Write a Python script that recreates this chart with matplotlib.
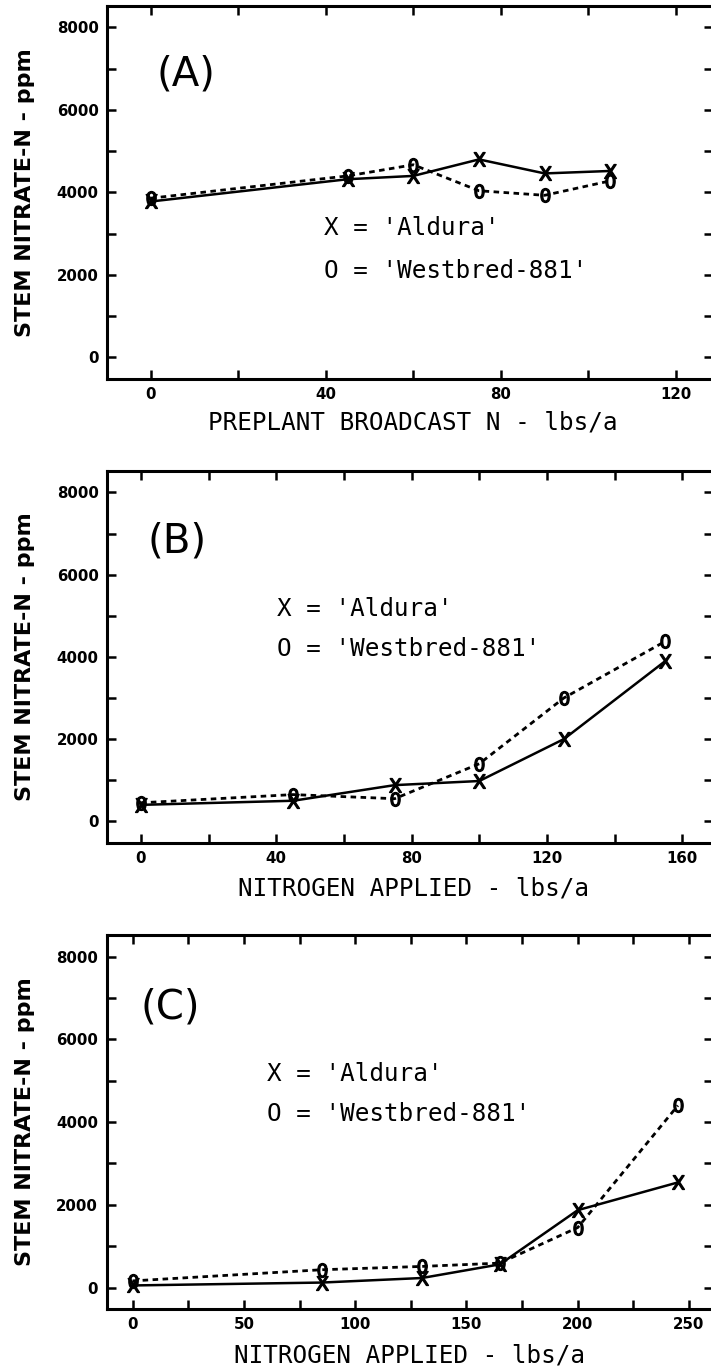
import matplotlib
matplotlib.use("Agg")
import matplotlib.pyplot as plt
from matplotlib.ticker import MultipleLocator

# panel A - preplant broadcast N
xa = [0, 45, 60, 75, 90, 105]
aldura_a = [3780, 4320, 4400, 4800, 4460, 4520]
westbred_a = [3860, 4400, 4670, 4040, 3930, 4280]

# panel B - nitrogen applied
xb = [0, 45, 75, 100, 125, 155]
aldura_b = [400, 500, 880, 980, 2000, 3900]
westbred_b = [450, 650, 550, 1400, 3000, 4380]

# panel C - nitrogen applied
xc = [0, 85, 130, 165, 200, 245]
aldura_c = [50, 120, 230, 560, 1870, 2540]
westbred_c = [160, 430, 510, 590, 1450, 4400]

panels = [
    dict(x=xa, a=aldura_a, w=westbred_a, tag="(A)", xlab="PREPLANT BROADCAST N - lbs/a",
         xlim=(-10, 128.5), major=40, minor=20, pos=[0.1505, 0.7234, 0.8525, 0.2723],
         tagxy=(8.0, 6850), legx=39.5, legy=(3145, 2100), xlabxy=(0.504, -0.118)),
    dict(x=xb, a=aldura_b, w=westbred_b, tag="(B)", xlab="NITROGEN APPLIED - lbs/a",
         xlim=(-10, 169.1), major=40, minor=20, pos=[0.1505, 0.3849, 0.8525, 0.2713],
         tagxy=(10.7, 6800), legx=40.1, legy=(5170, 4200), xlabxy=(0.505, -0.122)),
    dict(x=xc, a=aldura_c, w=westbred_c, tag="(C)", xlab="NITROGEN APPLIED - lbs/a",
         xlim=(-11.7, 260.8), major=50, minor=25, pos=[0.1499, 0.0445, 0.8530, 0.2730],
         tagxy=(16.8, 6780), legx=60.2, legy=(5150, 4185), xlabxy=(0.50, -0.123)),
]

fig = plt.figure(figsize=(7.11, 13.7), dpi=100)

for p in panels:
    ax = fig.add_axes(p["pos"])
    ax.plot(p["x"], p["a"], color="black", lw=1.8, marker=r"$\mathsf{X}$", ms=10,
            mec="black", mfc="black", zorder=3)
    ax.plot(p["x"], p["w"], color="black", lw=2.0, ls=(0, (2.0, 1.6)),
            marker=r"$\mathsf{0}$", ms=10, mec="black", mfc="black", zorder=2)

    ax.set_xlim(p["xlim"])
    ax.set_ylim(-520, 8520)
    ax.xaxis.set_major_locator(MultipleLocator(p["major"]))
    ax.xaxis.set_minor_locator(MultipleLocator(p["minor"]))
    ax.yaxis.set_major_locator(MultipleLocator(2000))
    ax.yaxis.set_minor_locator(MultipleLocator(1000))
    ax.tick_params(which="both", direction="in", top=True, right=True,
                   length=6.5, width=1.8)
    ax.tick_params(which="major", labelsize=10.8, pad=6)
    for lab in ax.get_xticklabels() + ax.get_yticklabels():
        lab.set_fontweight("heavy")
    for s in ax.spines.values():
        s.set_linewidth(2.2)

    ax.text(p["tagxy"][0], p["tagxy"][1], p["tag"], fontsize=29,
            ha="center", va="center", family="DejaVu Sans")
    ax.text(p["legx"], p["legy"][0], "X = 'Aldura'", fontsize=17.5,
            family="DejaVu Sans Mono", ha="left", va="center")
    ax.text(p["legx"], p["legy"][1], "O = 'Westbred-881'", fontsize=17.5,
            family="DejaVu Sans Mono", ha="left", va="center")

    yl = ax.set_ylabel("STEM NITRATE-N - ppm", fontsize=16, fontweight="bold")
    yl.set_va("center")
    ax.yaxis.set_label_coords(-0.135, 0.5)
    xl = ax.set_xlabel(p["xlab"], fontsize=17.5, family="DejaVu Sans Mono")
    xl.set_va("center")
    ax.xaxis.set_label_coords(*p["xlabxy"])

fig.savefig("out.png", dpi=100)
